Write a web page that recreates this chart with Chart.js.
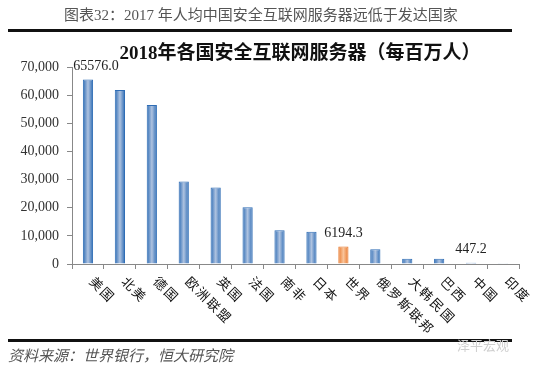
<!DOCTYPE html>
<html><head><meta charset="utf-8">
<script src="https://cdn.jsdelivr.net/npm/chart.js@4"></script>
<style>
html,body{margin:0;padding:0;background:#fff;}
#wrap{position:relative;width:550px;height:369px;overflow:hidden;}
canvas{position:absolute;left:0;top:0;}
.t{position:absolute;white-space:nowrap;}
</style></head><body>
<div id="wrap">
<canvas id="c" width="550" height="369"></canvas>
<div class="t" style="left:0;width:522px;top:3px;text-align:center;font:15px 'Liberation Serif','Noto Sans CJK SC';color:#555;">图表32：2017 年人均中国安全互联网服务器远低于发达国家</div>
<div style="position:absolute;left:8px;top:29px;width:504px;height:3px;background:#111;"></div>
<div class="t" style="left:0;width:600px;top:37px;text-align:center;font:bold 19px 'Liberation Serif','Noto Sans CJK SC';color:#111;">2018年各国安全互联网服务器（每百万人）</div>
<div style="position:absolute;left:8px;top:339px;width:504px;height:3px;background:#111;"></div>
<div class="t" style="left:8px;top:344px;font:italic 15px 'Noto Sans CJK SC';color:#555;">资料来源：世界银行，恒大研究院</div>
<div class="t" style="left:457px;top:335px;font:13px 'Noto Sans CJK SC';color:#cfcfcf;">泽平宏观</div>
</div>
<script>
const categories = ['美国','北美','德国','欧洲联盟','英国','法国','南非','日本','世界','俄罗斯联邦','大韩民国','巴西','中国','印度'];
const values = [65576.0, 61800, 56500, 29300, 27200, 20200, 12000, 11500, 6194.3, 5200, 1900, 1900, 447.2, 60];
const highlight = '世界';
const labelled = {0:'65576.0', 8:'6194.3', 12:'447.2'};
const yTicks = [0,10000,20000,30000,40000,50000,60000,70000];

function barFill(ctx, isOrange){
  const chart = ctx.chart;
  const xs = chart.scales && chart.scales.x;
  if(!chart.chartArea || !xs || xs.getPixelForValue(0) === undefined) return isOrange ? '#F5A86A' : '#7FA3D2';
  const cx = xs.getPixelForValue(ctx.dataIndex);
  const g = chart.ctx.createLinearGradient(cx-5,0,cx+5,0);
  if(isOrange){
    g.addColorStop(0,'#E8792E');g.addColorStop(0.5,'#F9C49A');g.addColorStop(1,'#E8792E');
  } else {
    g.addColorStop(0,'#2F6DB5');g.addColorStop(0.5,'#AFC3E0');g.addColorStop(1,'#2F6DB5');
  }
  return g;
}

const labelsPlugin = {
  id:'customLabels',
  afterDraw(chart){
    const ctx = chart.ctx;
    const xs = chart.scales.x, ys = chart.scales.y;
    ctx.save();
    ctx.fillStyle = '#111';
    ctx.font = "13px 'Noto Sans CJK SC'";
    try{ ctx.letterSpacing = '2px'; }catch(e){}
    ctx.textAlign = 'left';
    ctx.textBaseline = 'middle';
    categories.forEach((c,i)=>{
      const x = xs.getPixelForValue(i);
      ctx.save();
      ctx.translate(x+4, chart.chartArea.bottom+15);
      ctx.rotate(Math.PI/4);
      ctx.fillText(c,0,0);
      ctx.restore();
    });
    try{ ctx.letterSpacing = '0px'; }catch(e){}
    ctx.font = "14px 'Liberation Serif'";
    ctx.fillStyle = '#222';
    ctx.textAlign = 'center';
    ctx.textBaseline = 'bottom';
    Object.keys(labelled).forEach(k=>{
      const i = +k;
      let x = xs.getPixelForValue(i);
      let y = ys.getPixelForValue(values[i]) - 6;
      if(i===0){ x += 8; y = Math.min(y, chart.chartArea.top+7); }
      ctx.fillText(labelled[k], x, y);
    });
    ctx.restore();
  }
};

new Chart(document.getElementById('c'), {
  type:'bar',
  data:{
    labels: categories,
    datasets:[{
      data: values,
      backgroundColor: ctx => barFill(ctx, categories[ctx.dataIndex]===highlight),
      borderColor: ctx => categories[ctx.dataIndex]===highlight ? '#E8792E' : '#2F6DB5',
      borderWidth: 1,
      categoryPercentage: 1,
      barPercentage: 0.32
    }]
  },
  options:{
    responsive:false,
    animation:false,
    devicePixelRatio:1,
    layout:{padding:{top:67,right:31,bottom:0,left:0}},
    plugins:{legend:{display:false},tooltip:{enabled:false},title:{display:false}},
    scales:{
      x:{
        offset:true,
        grid:{display:true,drawOnChartArea:false,drawTicks:true,tickLength:5,color:'#888',offset:true},
        border:{display:true,color:'#888',width:1},
        ticks:{display:false},
        afterFit(s){ s.height = 105; }
      },
      y:{
        min:0,max:70000,
        afterBuildTicks(s){ s.ticks = yTicks.map(v=>({value:v})); },
        grid:{display:true,drawOnChartArea:false,drawTicks:true,tickLength:5,color:'#888'},
        border:{display:true,color:'#888',width:1},
        ticks:{
          padding:8,color:'#333',
          font:{family:"'Liberation Serif'",size:14},
          callback:v=>v.toLocaleString('en-US')
        },
        afterFit(s){ s.width = 72; }
      }
    }
  },
  plugins:[labelsPlugin]
});
</script>
</body></html>
